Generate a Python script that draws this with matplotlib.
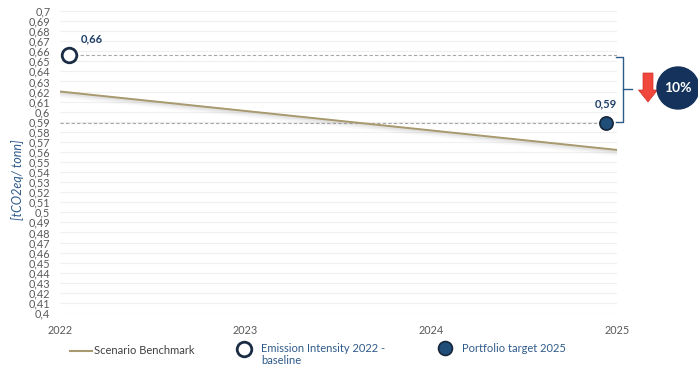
import matplotlib
matplotlib.use("Agg")
import matplotlib.pyplot as plt
from matplotlib.patches import FancyArrow, Ellipse
import numpy as np

# Data
years = [2022, 2023, 2024, 2025]
benchmark_years = [2022, 2025]
benchmark_values = [0.620, 0.562]
baseline_x = [2022.05]
baseline_value = [0.656]
target_x = [2024.94]
target_value = [0.589]
reduction_label = "10%"
ytick_values = [round(0.40 + 0.01 * i, 2) for i in range(31)]
ytick_labels = [("%g" % v).replace(".", ",") for v in ytick_values]

plt.rcParams['font.family'] = ['Lato', 'DejaVu Sans']

fig = plt.figure(figsize=(6.98, 3.66), dpi=100)
ax = fig.add_axes([60/698, 1-313/366, (617-60)/698, (313-11)/366])

ax.set_xlim(2022, 2025)
ax.set_ylim(0.4, 0.7)
ax.set_yticks(ytick_values)
ax.set_yticklabels(ytick_labels)
ax.set_xticks(years)
ax.set_xticklabels([str(y) for y in years])
ax.tick_params(axis='both', length=0, labelsize=7.8, colors='#595959')
ax.tick_params(axis='y', pad=7)
ax.tick_params(axis='x', pad=9)
for s in ax.spines.values():
    s.set_visible(False)
ax.grid(axis='y', color='#f0f0f0', linewidth=0.9)
ax.set_axisbelow(True)

# dashed reference lines
ax.plot([baseline_x[0], 2025], [baseline_value[0]]*2, ls=(0, (3, 2)), color='#a6a6a6', lw=0.8, zorder=2)
ax.plot([2022, target_x[0]], [target_value[0]]*2, ls=(0, (3, 2)), color='#a6a6a6', lw=0.8, zorder=2)

# benchmark line with soft shadow
for k, a in zip([1, 2, 3], [0.12, 0.08, 0.05]):
    ax.plot(benchmark_years, [v - 0.001*k for v in benchmark_values], color='#888888', lw=1.5+k, alpha=a, zorder=3, solid_capstyle='butt')
ax.plot(benchmark_years, benchmark_values, color='#a89a6e', lw=1.4, zorder=4, label='Scenario Benchmark')

ax.plot(baseline_x, baseline_value, 'o', ms=10.5, mfc='white', mec='#1b2d45', mew=2.0, zorder=6)
ax.plot(target_x, target_value, 'o', ms=9.5, mfc='#1f4e79', mec='#17273a', mew=1.2, zorder=6)

ax.annotate(("%.2f" % baseline_value[0]).replace('.', ','), (baseline_x[0], baseline_value[0]),
            xytext=(8, 9), textcoords='offset points', fontsize=8, fontweight='bold', color='#1f3f66')
ax.annotate(("%.2f" % target_value[0]).replace('.', ','), (target_x[0], target_value[0]),
            xytext=(-8, 11), textcoords='offset points', fontsize=8, fontweight='bold', color='#1f3f66')

def fx(px): return px/698
def fy(py): return 1 - py/366

fig.text(fx(18), fy(180), '[tCO2eq/ tonn]', color='#2e5a8a', fontsize=9, style='italic',
         rotation=90, ha='center', va='center')

# bracket on the right
bc = '#2e5a8a'
fig.add_artist(plt.Line2D([fx(616), fx(623), fx(623), fx(616)], [fy(57), fy(57), fy(122), fy(122)], color=bc, lw=1.0))
fig.add_artist(plt.Line2D([fx(623), fx(632)], [fy(89), fy(89)], color=bc, lw=1.0))

# red arrow
arrow = FancyArrow(fx(648), fy(73), 0, -(102-73)/366, width=10/698, head_width=19/698,
                   head_length=12/366, length_includes_head=True, transform=fig.transFigure,
                   color='#f0463c', ec='#d0302a', lw=0.5)
fig.add_artist(arrow)

# navy circle with 10%
circ = Ellipse((fx(678), fy(88)), 42/698, 42/366, transform=fig.transFigure,
               color='#14325c', zorder=5)
fig.add_artist(circ)
fig.text(fx(678), fy(88), reduction_label, ha='center', va='center', color='white',
         fontsize=10, fontweight='bold', zorder=7)

# legend
lc = '#2e5a8a'
fig.add_artist(plt.Line2D([fx(70), fx(92)], [fy(351), fy(351)], color='#a89a6e', lw=1.5))
fig.text(fx(94), fy(351), 'Scenario Benchmark', va='center', fontsize=8, color='#404040')
fig.add_artist(plt.Line2D([fx(244)], [fy(349)], marker='o', ms=10.5, mfc='white', mec='#1b2d45', mew=2.0))
fig.text(fx(261), fy(348), 'Emission Intensity 2022 -', va='center', fontsize=8, color=lc)
fig.text(fx(261), fy(361), 'baseline', va='center', fontsize=8, color=lc)
fig.add_artist(plt.Line2D([fx(445)], [fy(348)], marker='o', ms=10, mfc='#1f4e79', mec='#17273a', mew=1.2))
fig.text(fx(462), fy(348), 'Portfolio target 2025', va='center', fontsize=8, color=lc)

fig.savefig('out.png', dpi=100)
